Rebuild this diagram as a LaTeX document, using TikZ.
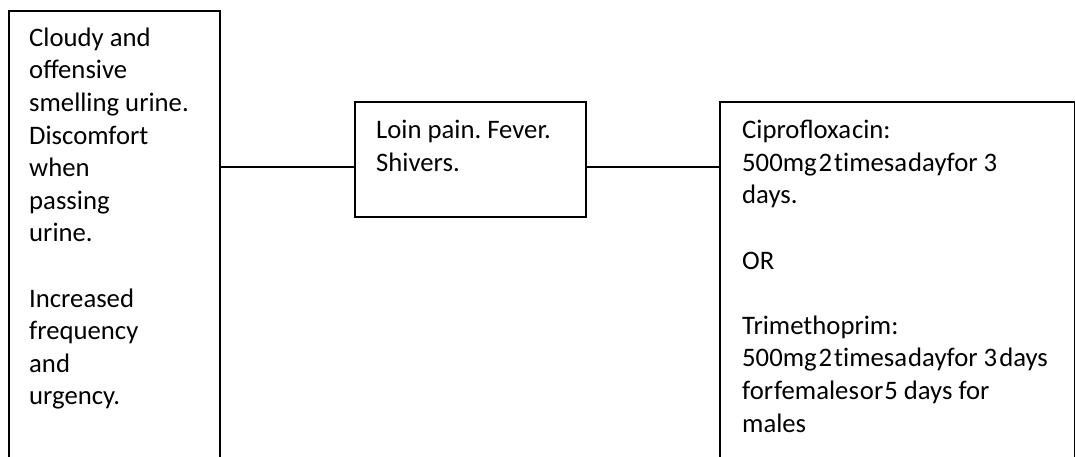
\documentclass[tikz,border=0pt]{standalone}
\usepackage{fontspec}
\setmainfont{Carlito}
\usetikzlibrary{calc}
\frenchspacing
\tikzset{
  box/.style={draw=black, line width=1.8pt, rectangle, anchor=north west, inner sep=0pt},
  txt/.style={anchor=north west, align=left, inner sep=0pt, font=\fontsize{26.7}{32.6}\selectfont\frenchspacing},
  conn/.style={draw=black, line width=1.8pt}
}
\newcommand{\topstrut}{\rule{0pt}{26pt}}
\begin{document}
\begin{tikzpicture}[x=1pt,y=-1pt]
\useasboundingbox (0,0) rectangle (1075,457);
\fill[white] (0,0) rectangle (1075,457);
\clip (0,0) rectangle (1075,457);
% boxes
\node[box, minimum width=211pt, minimum height=470pt] (L) at (8,10) {};
\node[box, minimum width=231pt, minimum height=115pt] (M) at (354,101) {};
\node[box, minimum width=355pt, minimum height=380pt] (R) at (719,101) {};
% texts
\node[txt] (Lt) at (29,20) {\topstrut Cloudy and\\ offensive\\ smelling urine.\\ Discomfort\\ when\\ passing\\ urine.\\[32.6pt] Increased\\ frequency\\ and\\ urgency.};
\node[txt] (Mt) at (376,112.5) {\topstrut Loin pain. Fever.\\ Shivers.};
\node[txt] (Rt) at (742,112.5) {\topstrut Ciprofloxa\kern1pt cin:\\ 500mg\kern2pt 2\kern2pt t\kern0pt imesa\kern1pt dayfor 3\\ days.\\[32.6pt] OR\\[32.6pt] Trimethoprim:\\ 500mg\kern2pt 2\kern2pt t\kern0pt imesa\kern1pt dayfor 3\kern2pt days\\ for\kern1pt females\kern1pt or\kern1pt 5 days for\\ males};
% connectors
\coordinate (cy) at (0,167);
\draw[conn] (L.east |- cy) -- (M.west |- cy);
\draw[conn] (M.east |- cy) -- (R.west |- cy);
\end{tikzpicture}
\end{document}
